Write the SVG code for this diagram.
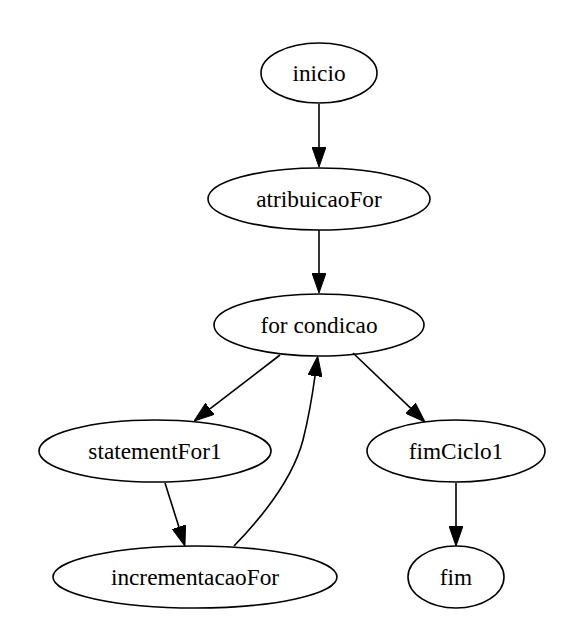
<svg xmlns="http://www.w3.org/2000/svg" width="587" height="641" viewBox="0 0 587 641">
<style>
.n ellipse{fill:none;stroke:#000;stroke-width:1.6}
.n text{font-family:"Liberation Serif","Times New Roman",serif;font-size:23.3px;fill:#000;text-anchor:middle}
.e path{fill:none;stroke:#000;stroke-width:1.6}
</style>
<defs>
<marker id="ah" viewBox="0 0 20 14" refX="0" refY="7" markerWidth="20" markerHeight="14" markerUnits="userSpaceOnUse" orient="auto">
<path d="M0,0 L20,7 L0,14 z" fill="#000" stroke="#000" stroke-width="1"/>
</marker>
</defs>
<rect width="587" height="641" fill="#fff"/>
<g id="edges" class="e">
<path d="M319,104 L319,147" marker-end="url(#ah)"/>
<path d="M319,230 L319,273" marker-end="url(#ah)"/>
<path d="M280,355 L209.9,408.8" marker-end="url(#ah)"/>
<path d="M165,483 L178.9,526.9" marker-end="url(#ah)"/>
<path d="M234,546 C266,513 293,478 303,440 C308,420 312,398 315,376" marker-end="url(#ah)"/>
<path d="M353,353 L410.6,408.2" marker-end="url(#ah)"/>
<path d="M456,483 L456,526" marker-end="url(#ah)"/>
</g>
<g id="inicio" class="n"><ellipse cx="319" cy="73" rx="58" ry="30"/><text x="319" y="81">inicio</text></g>
<g id="atribuicaoFor" class="n"><ellipse cx="319" cy="199" rx="111" ry="31"/><text x="319" y="207">atribuicaoFor</text></g>
<g id="forcondicao" class="n"><ellipse cx="319" cy="325" rx="105" ry="31"/><text x="319" y="333">for condicao</text></g>
<g id="statementFor1" class="n"><ellipse cx="155" cy="451" rx="116" ry="31"/><text x="155" y="459">statementFor1</text></g>
<g id="fimCiclo1" class="n"><ellipse cx="456" cy="451" rx="89" ry="31"/><text x="456" y="459">fimCiclo1</text></g>
<g id="incrementacaoFor" class="n"><ellipse cx="195" cy="577" rx="142" ry="31"/><text x="195" y="585">incrementacaoFor</text></g>
<g id="fim" class="n"><ellipse cx="456" cy="577" rx="48" ry="31"/><text x="456" y="585">fim</text></g>
</svg>
